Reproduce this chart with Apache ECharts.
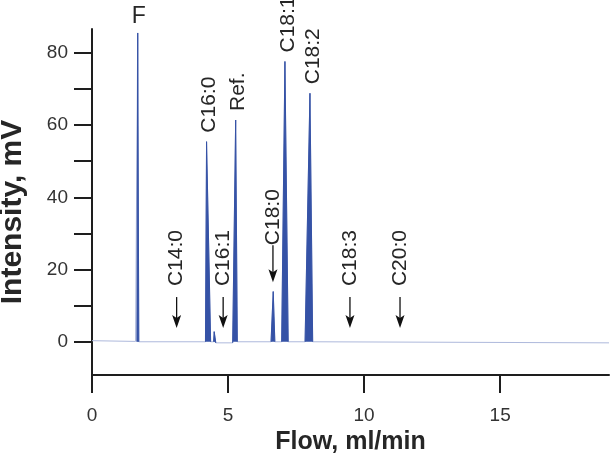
<!DOCTYPE html>
<html>
<head>
<meta charset="utf-8">
<script src="https://cdn.jsdelivr.net/npm/echarts@6/dist/echarts.min.js"></script>
<style>html,body{margin:0;padding:0;background:#fff}#c{width:612px;height:459px}</style>
</head>
<body>
<div id="c"></div>
<script>
// Chromatogram trace (flow in ml/min, intensity in mV)
const flow = [0, 1.60, 1.65, 1.68, 1.72, 4.17, 4.21, 4.36, 4.47, 4.49, 4.53, 4.55, 5.17, 5.28, 5.34, 6.58, 6.66, 6.72, 6.97, 7.09, 7.21, 7.83, 8.01, 8.11, 19];
const intensity = [0.3, 0.1, 0, 85.5, 0, 0, 55.4, 0, 0, 2.8, 2.6, -0.3, -0.3, 61.4, 0, 0, 13.9, 0, 0, 77.6, 0, 0, 68.8, 0, -0.3];

// Peak labels
const peakNames = ['F', 'C16:0', 'Ref.', 'C18:1', 'C18:2'];
const peakFlow = [1.68, 4.21, 5.28, 7.09, 8.01];
const peakIntensity = [85.5, 55.4, 61.4, 77.6, 68.8];

// Arrow labels (expected positions)
const arrowNames = ['C14:0', 'C16:1', 'C18:0', 'C18:3', 'C20:0'];
const arrowFlow = [3.11, 4.82, 6.65, 9.48, 11.32];
const arrowTip = [3.8, 3.8, 16.5, 3.8, 3.8];

// Axis ticks
const xTicks = [0, 5, 10, 15];
const yTicks = [0, 10, 20, 30, 40, 50, 60, 70, 80];
const yLabels = [0, 20, 40, 60, 80];

const FONT = '"Liberation Sans", Arial, sans-serif';
const TXT = '#262626';

const trace = flow.map((f, i) => [f, intensity[i]]);
// peak segments only: keep segments touching a peak point, break elsewhere with null
const isPeak = i => intensity[i] > 1;
const peakTrace = [];
for (let i = 0; i < flow.length; i++) {
  const used = isPeak(i) || (i > 0 && isPeak(i - 1)) || (i < flow.length - 1 && isPeak(i + 1));
  if (used) peakTrace.push([flow[i], intensity[i]]);
  if (i < flow.length - 1 && !isPeak(i) && !isPeak(i + 1)) peakTrace.push([flow[i], null]);
}
const peakData = peakFlow.map((f, i) => [f, peakIntensity[i]]);
const arrowData = arrowFlow.map((f, i) => [f, arrowTip[i]]);

const chart = echarts.init(document.getElementById('c'));
chart.setOption({
  animation: false,
  backgroundColor: '#fff',
  grid: { left: 92, right: 3, top: 29, bottom: 84, containLabel: false, outerBoundsMode: 'none' },
  xAxis: {
    type: 'value', min: 0, max: 19,
    name: 'Flow, ml/min', nameLocation: 'middle', nameGap: 54,
    nameTextStyle: { fontFamily: FONT, fontSize: 25, fontWeight: 'bold', color: TXT },
    axisLine: { show: true, onZero: false, lineStyle: { color: '#1e1e1e', width: 2 } },
    axisTick: { show: true, inside: false, length: 18, lineStyle: { color: '#1e1e1e', width: 2 }, customValues: xTicks },
    axisLabel: { show: true, margin: 31, fontFamily: FONT, fontSize: 19, color: '#333', customValues: xTicks },
    splitLine: { show: false }
  },
  yAxis: {
    type: 'value', min: -9.2, max: 86.6,
    name: 'Intensity, mV', nameLocation: 'middle', nameGap: 64, nameRotate: 90,
    nameTextStyle: { fontFamily: FONT, fontSize: 30, fontWeight: 'bold', color: TXT, padding: [0, 20, 0, 0] },
    axisLine: { show: true, onZero: false, lineStyle: { color: '#1e1e1e', width: 2 } },
    axisTick: { show: true, inside: false, length: 18, lineStyle: { color: '#1e1e1e', width: 2 }, customValues: yTicks },
    axisLabel: { show: true, margin: 24, fontFamily: FONT, fontSize: 19, color: '#333', customValues: yLabels },
    splitLine: { show: false }
  },
  series: [
    {
      type: 'line', data: trace, symbol: 'none', smooth: false,
      lineStyle: { width: 1, color: '#aeb9dc' },
      z: 2
    },
    {
      type: 'line', data: peakTrace, symbol: 'none', smooth: false, connectNulls: false,
      lineStyle: { width: 1, color: '#3552a6' },
      areaStyle: { color: '#3552a6', opacity: 1, origin: 0 },
      z: 3
    },
    {
      type: 'custom', data: peakData, clip: false, z: 5,
      encode: { x: 0, y: 1 },
      renderItem: function (params, api) {
        const p = api.coord([api.value(0), api.value(1)]);
        const name = peakNames[params.dataIndex];
        if (name === 'F') {
          return { type: 'text', x: p[0] + 1, y: p[1] - 5,
            style: { text: name, align: 'center', verticalAlign: 'bottom', font: '23px ' + FONT, fill: TXT } };
        }
        return { type: 'text', x: p[0] + 3, y: p[1] - 9, rotation: Math.PI / 2,
          style: { text: name, align: 'left', verticalAlign: 'middle', font: '21px ' + FONT, fill: TXT } };
      }
    },
    {
      type: 'custom', data: arrowData, clip: false, z: 5,
      encode: { x: 0, y: 1 },
      renderItem: function (params, api) {
        const p = api.coord([api.value(0), api.value(1)]);
        const name = arrowNames[params.dataIndex];
        const joined = name === 'C18:0';
        const len = joined ? 37 : 31;
        const gap = joined ? 0 : 11;
        return {
          type: 'group', x: p[0], y: p[1],
          children: [
            { type: 'line', shape: { x1: 0, y1: -8, x2: 0, y2: -len }, style: { stroke: '#111', lineWidth: 1.3 } },
            { type: 'polygon', shape: { points: [[0, 0], [-4.5, -13], [0, -10], [4.5, -13]] }, style: { fill: '#111' } },
            { type: 'text', x: 0, y: -len - gap, rotation: Math.PI / 2,
              style: { text: name, align: 'left', verticalAlign: 'middle', font: '21px ' + FONT, fill: TXT } }
          ]
        };
      }
    }
  ]
});
</script>
</body>
</html>
